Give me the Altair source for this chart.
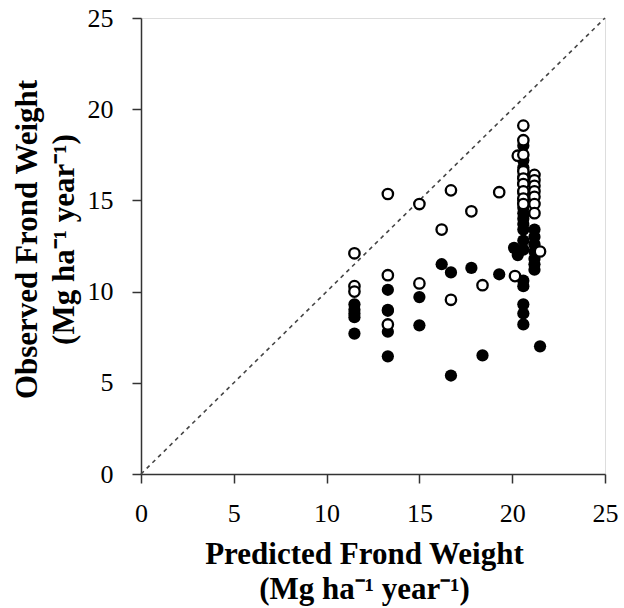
import altair as alt
import pandas as pd

# Open circles (x = predicted, y = observed)
open_x = [11.5, 11.5, 11.5,
          13.3, 13.3, 13.3,
          15.0, 15.0,
          16.2,
          16.7, 16.7,
          17.8,
          18.4,
          19.3,
          20.15,
          20.3,
          20.6, 20.6, 20.6, 20.6, 20.6, 20.6, 20.6, 20.6, 20.6,
          21.2, 21.2, 21.2, 21.2, 21.2, 21.2, 21.2,
          21.5]
open_y = [12.1, 10.3, 10.0,
          15.35, 10.9, 8.2,
          14.8, 10.45,
          13.4,
          15.55, 9.55,
          14.4,
          10.35,
          15.45,
          10.85,
          17.45,
          19.1, 18.3, 17.5, 16.6, 16.2, 15.9, 15.5, 15.1, 14.8,
          16.4, 16.1, 15.8, 15.5, 15.2, 14.8, 14.3,
          12.2]

# Filled circles
fill_x = [11.5, 11.5, 11.5, 11.5, 11.5,
          13.3, 13.3, 13.3, 13.3, 13.3,
          15.0, 15.0,
          16.2,
          16.7, 16.7,
          17.8,
          18.4,
          19.3,
          20.1,
          20.3,
          20.6, 20.6, 20.6, 20.6, 20.6, 20.6, 20.6, 20.6, 20.6, 20.6,
          20.6, 20.6, 20.6, 20.6, 20.6, 20.6, 20.6, 20.6, 20.6,
          21.2, 21.2, 21.2, 21.2, 21.2, 21.2, 21.2,
          21.5]
fill_y = [9.3, 9.0, 8.8, 8.6, 7.7,
          10.1, 9.0, 8.95, 7.8, 6.45,
          9.7, 8.15,
          11.5,
          11.05, 5.4,
          11.3,
          6.5,
          10.95,
          12.4,
          12.0,
          18.0, 17.2, 16.8, 16.3, 15.9, 15.4, 15.0, 14.6, 14.3, 14.0,
          13.7, 13.4, 12.8, 12.3, 10.6, 10.3, 9.3, 8.8, 8.2,
          13.4, 13.0, 12.6, 12.2, 11.8, 11.5, 11.2,
          7.0]

line_vals = [0, 25]
tick_vals = [0, 5, 10, 15, 20, 25]

FONT = "Liberation Serif"

open_df = pd.DataFrame({"x": open_x, "y": open_y})
fill_df = pd.DataFrame({"x": fill_x, "y": fill_y})
line_df = pd.DataFrame({"x": line_vals, "y": line_vals})

xscale = alt.Scale(domain=[0, 25], nice=False, zero=False)
yscale = alt.Scale(domain=[0, 25], nice=False, zero=False)

xaxis = alt.Axis(
    values=tick_vals, grid=False, tickSize=9, tickColor="#333", tickWidth=1.5,
    domainColor="#333", domainWidth=1.5,
    labelFont=FONT, labelFontSize=26, labelColor="black", labelPadding=17,
    labelFlush=False,
    title=["Predicted Frond Weight", "(Mg ha\u207b\u00b9 year\u207b\u00b9)"],
    titleFont=FONT, titleFontSize=31, titleFontWeight="bold", titleColor="black",
    titleLineHeight=35, titleX=223, titleY=89, titleBaseline="alphabetic",
    titleAlign="center", titleAnchor="middle",
)
yaxis = alt.Axis(
    values=tick_vals, grid=False, tickSize=9, tickColor="#333", tickWidth=1.5,
    domainColor="#333", domainWidth=1.5,
    labelFont=FONT, labelFontSize=26, labelColor="black", labelPadding=19,
    labelFlush=False,
    title=["Observed Frond Weight", "(Mg ha\u207b\u00b9 year\u207b\u00b9)"],
    titleFont=FONT, titleFontSize=31, titleFontWeight="bold", titleColor="black",
    titleLineHeight=37, titleAngle=270, titleX=-105, titleY=221,
    titleBaseline="alphabetic", titleAlign="center", titleAnchor="middle",
)

diag = alt.Chart(line_df).mark_line(
    color="#444", strokeDash=[4, 4], strokeWidth=1.6
).encode(
    x=alt.X("x:Q", scale=xscale, axis=xaxis),
    y=alt.Y("y:Q", scale=yscale, axis=yaxis),
)

filled = alt.Chart(fill_df).mark_point(
    shape="circle", filled=True, color="black", size=150, opacity=1
).encode(x=alt.X("x:Q", scale=xscale), y=alt.Y("y:Q", scale=yscale))

opened = alt.Chart(open_df).mark_point(
    shape="circle", filled=False, fill="white", fillOpacity=1,
    stroke="black", strokeWidth=2.3, size=108, opacity=1
).encode(x=alt.X("x:Q", scale=xscale), y=alt.Y("y:Q", scale=yscale))

chart = alt.layer(diag, filled, opened).properties(
    width=464, height=456,
    autosize=alt.AutoSizeParams(type="none"),
    padding={"left": 141, "top": 18, "right": 19, "bottom": 134},
).configure_view(stroke="#333", strokeWidth=1.5).configure(background="white")

chart.save("out.html", embed_options={"renderer": "svg", "actions": False})
